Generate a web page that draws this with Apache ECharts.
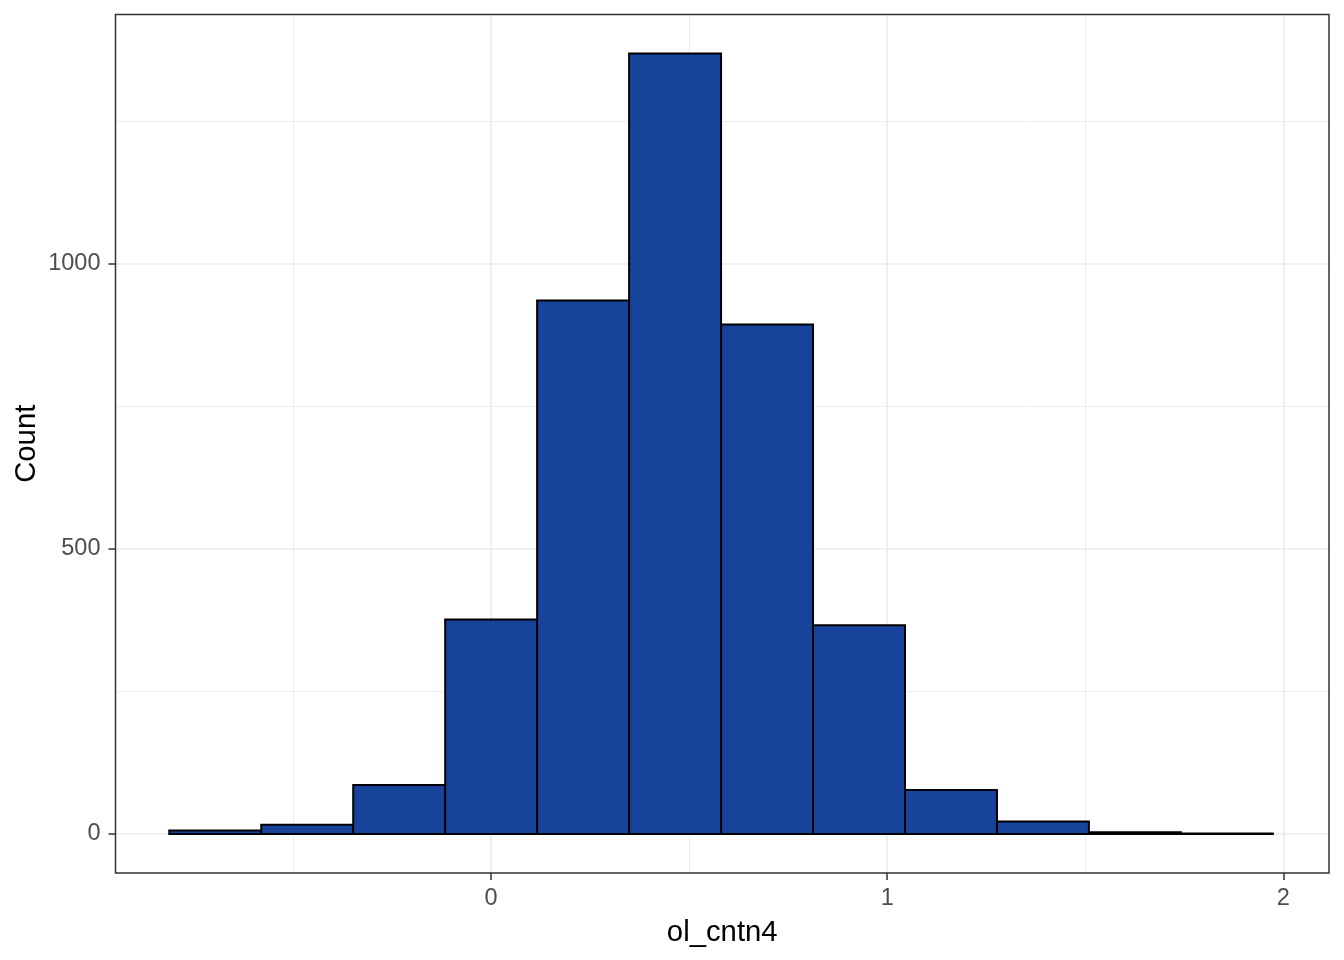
<!DOCTYPE html>
<html>
<head>
<meta charset="utf-8">
<script src="https://cdn.jsdelivr.net/npm/echarts@6/dist/echarts.min.js"></script>
<style>
html,body{margin:0;padding:0;background:#fff;}
#chart{width:1344px;height:960px;}
</style>
</head>
<body>
<div id="chart"></div>
<script>
// Histogram bins (left/right edges) and counts
var binEdges = [-0.8127, -0.5805, -0.3483, -0.1161, 0.1161, 0.3483, 0.5805, 0.8127, 1.0449, 1.2771, 1.5093, 1.7415, 1.9737];
var counts = [6, 16, 86, 376, 935, 1368, 893, 366, 77, 22, 3, 1];

var xTicks = [0, 1, 2];
var xMinor = [-0.5, 0.5, 1.5];
var yTicks = [0, 500, 1000];
var yMinor = [250, 750, 1250];

var xRange = [-0.9485, 2.1155];
var yRange = [-68.4, 1436.4];

var barData = counts.map(function (c, i) { return [binEdges[i], binEdges[i + 1], c]; });

var gridLines = [];
xMinor.forEach(function (v) { gridLines.push({ xAxis: v, lineStyle: { color: '#EBEBEB', width: 0.9, type: 'solid' } }); });
yMinor.forEach(function (v) { gridLines.push({ yAxis: v, lineStyle: { color: '#EBEBEB', width: 0.9, type: 'solid' } }); });
xTicks.forEach(function (v) { gridLines.push({ xAxis: v, lineStyle: { color: '#EBEBEB', width: 1.6, type: 'solid' } }); });
yTicks.forEach(function (v) { gridLines.push({ yAxis: v, lineStyle: { color: '#EBEBEB', width: 1.6, type: 'solid' } }); });

var chart = echarts.init(document.getElementById('chart'), null, { renderer: 'canvas' });
var font = 'Liberation Sans, Arial, sans-serif';
function plain(v) { return String(Math.round(v)); }
chart.setOption({
  animation: false,
  backgroundColor: '#ffffff',
  grid: {
    left: 115.5, right: 15, top: 14.5, bottom: 87,
    containLabel: false, outerBoundsMode: 'none',
    show: true, borderColor: '#333333', borderWidth: 1.5, backgroundColor: 'transparent', z: 10
  },
  xAxis: {
    type: 'value', min: xRange[0], max: xRange[1], position: 'bottom',
    name: 'ol_cntn4', nameLocation: 'middle', nameGap: 45, nameMoveOverlap: false,
    nameTextStyle: { fontFamily: font, fontSize: 29.3, color: '#000000' },
    axisLine: { show: false, onZero: false },
    splitLine: { show: false },
    axisTick: { show: true, length: 7, customValues: xTicks, lineStyle: { color: '#333333', width: 1.5 } },
    axisLabel: { show: true, customValues: xTicks, formatter: plain, margin: 14, fontFamily: font, fontSize: 23.5, color: '#4D4D4D' }
  },
  yAxis: {
    type: 'value', min: yRange[0], max: yRange[1], position: 'left',
    name: 'Count', nameLocation: 'middle', nameGap: 74, nameRotate: 90, nameMoveOverlap: false,
    nameTextStyle: { fontFamily: font, fontSize: 29.3, color: '#000000' },
    axisLine: { show: false, onZero: false },
    splitLine: { show: false },
    axisTick: { show: true, length: 7, customValues: yTicks, lineStyle: { color: '#333333', width: 1.5 } },
    axisLabel: { show: true, customValues: yTicks, formatter: plain, margin: 15, fontFamily: font, fontSize: 23.5, color: '#4D4D4D' }
  },
  series: [
    {
      type: 'line', data: [], z: 1, silent: true,
      markLine: { silent: true, symbol: ['none', 'none'], label: { show: false }, animation: false, data: gridLines }
    },
    {
      type: 'custom', z: 5, silent: true,
      data: barData,
      encode: { x: [0, 1], y: 2 },
      renderItem: function (params, api) {
        var p0 = api.coord([api.value(0), api.value(2)]);
        var p1 = api.coord([api.value(1), 0]);
        return {
          type: 'rect',
          shape: { x: p0[0], y: p0[1], width: p1[0] - p0[0], height: p1[1] - p0[1] },
          style: { fill: '#17449A', stroke: '#000000', lineWidth: 2 }
        };
      }
    }
  ]
});
</script>
</body>
</html>
